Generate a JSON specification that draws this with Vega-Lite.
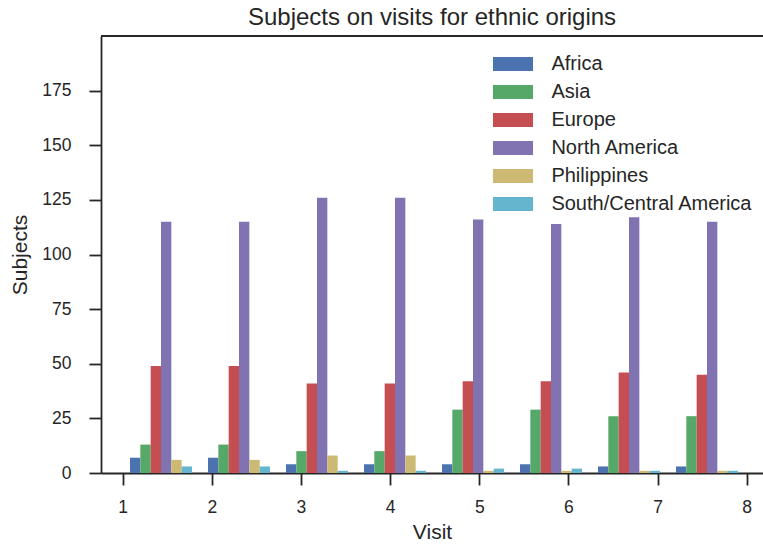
{
  "$schema": "https://vega.github.io/schema/vega-lite/v6.json",
  "width": 662,
  "height": 437,
  "autosize": {"type": "none"},
  "padding": {"left": 101, "top": 36, "right": 0, "bottom": 75},
  "background": "white",
  "config": {"font": "Liberation Sans", "view": {"stroke": null}, "axis": {"grid": false}},
  "title": {"text": "Subjects on visits for ethnic origins", "fontSize": 24, "fontWeight": "normal", "color": "#262626", "offset": 5, "anchor": "middle", "frame": "group"},
  "data": {"values": [
    {"Visit": 1, "Origin": "Africa", "Subjects": 7},
    {"Visit": 1, "Origin": "Asia", "Subjects": 13},
    {"Visit": 1, "Origin": "Europe", "Subjects": 49},
    {"Visit": 1, "Origin": "North America", "Subjects": 115},
    {"Visit": 1, "Origin": "Philippines", "Subjects": 6},
    {"Visit": 1, "Origin": "South/Central America", "Subjects": 3},
    {"Visit": 2, "Origin": "Africa", "Subjects": 7},
    {"Visit": 2, "Origin": "Asia", "Subjects": 13},
    {"Visit": 2, "Origin": "Europe", "Subjects": 49},
    {"Visit": 2, "Origin": "North America", "Subjects": 115},
    {"Visit": 2, "Origin": "Philippines", "Subjects": 6},
    {"Visit": 2, "Origin": "South/Central America", "Subjects": 3},
    {"Visit": 3, "Origin": "Africa", "Subjects": 4},
    {"Visit": 3, "Origin": "Asia", "Subjects": 10},
    {"Visit": 3, "Origin": "Europe", "Subjects": 41},
    {"Visit": 3, "Origin": "North America", "Subjects": 126},
    {"Visit": 3, "Origin": "Philippines", "Subjects": 8},
    {"Visit": 3, "Origin": "South/Central America", "Subjects": 1},
    {"Visit": 4, "Origin": "Africa", "Subjects": 4},
    {"Visit": 4, "Origin": "Asia", "Subjects": 10},
    {"Visit": 4, "Origin": "Europe", "Subjects": 41},
    {"Visit": 4, "Origin": "North America", "Subjects": 126},
    {"Visit": 4, "Origin": "Philippines", "Subjects": 8},
    {"Visit": 4, "Origin": "South/Central America", "Subjects": 1},
    {"Visit": 5, "Origin": "Africa", "Subjects": 4},
    {"Visit": 5, "Origin": "Asia", "Subjects": 29},
    {"Visit": 5, "Origin": "Europe", "Subjects": 42},
    {"Visit": 5, "Origin": "North America", "Subjects": 116},
    {"Visit": 5, "Origin": "Philippines", "Subjects": 1},
    {"Visit": 5, "Origin": "South/Central America", "Subjects": 2},
    {"Visit": 6, "Origin": "Africa", "Subjects": 4},
    {"Visit": 6, "Origin": "Asia", "Subjects": 29},
    {"Visit": 6, "Origin": "Europe", "Subjects": 42},
    {"Visit": 6, "Origin": "North America", "Subjects": 114},
    {"Visit": 6, "Origin": "Philippines", "Subjects": 1},
    {"Visit": 6, "Origin": "South/Central America", "Subjects": 2},
    {"Visit": 7, "Origin": "Africa", "Subjects": 3},
    {"Visit": 7, "Origin": "Asia", "Subjects": 26},
    {"Visit": 7, "Origin": "Europe", "Subjects": 46},
    {"Visit": 7, "Origin": "North America", "Subjects": 117},
    {"Visit": 7, "Origin": "Philippines", "Subjects": 1},
    {"Visit": 7, "Origin": "South/Central America", "Subjects": 1},
    {"Visit": 8, "Origin": "Africa", "Subjects": 3},
    {"Visit": 8, "Origin": "Asia", "Subjects": 26},
    {"Visit": 8, "Origin": "Europe", "Subjects": 45},
    {"Visit": 8, "Origin": "North America", "Subjects": 115},
    {"Visit": 8, "Origin": "Philippines", "Subjects": 1},
    {"Visit": 8, "Origin": "South/Central America", "Subjects": 1}
  ]},
  "layer": [
    {
      "mark": {"type": "bar"},
      "encoding": {
        "x": {"field": "Visit", "type": "ordinal", "scale": {"range": [29, 637], "paddingInner": 0.205, "paddingOuter": 0}, "axis": null},
        "xOffset": {"field": "Origin", "type": "nominal"},
        "y": {"field": "Subjects", "type": "quantitative", "scale": {"domain": [0, 200], "nice": false},
          "axis": {"values": [0, 25, 50, 75, 100, 125, 150, 175], "title": "Subjects", "titleFontSize": 21, "titleFontWeight": "normal", "titleColor": "#262626", "titlePadding": 11, "labelFontSize": 17.5, "labelColor": "#262626", "labelPadding": 18, "tickSize": 12, "tickWidth": 1.8, "tickColor": "#262626", "domainColor": "#262626", "domainWidth": 1.8}},
        "color": {"field": "Origin", "type": "nominal",
          "scale": {"domain": ["Africa", "Asia", "Europe", "North America", "Philippines", "South/Central America"], "range": ["#4C72B0", "#55A868", "#C44E52", "#8172B2", "#CCB974", "#64B5CD"]},
          "legend": {"title": null, "orient": "none", "legendX": 402, "legendY": 18, "symbolType": "M-2.86,-1H2.86V1H-2.86Z", "symbolSize": 196, "symbolStrokeWidth": 0, "symbolOpacity": 1, "labelFontSize": 20, "labelLimit": 0, "labelColor": "#262626", "labelOffset": 28.4, "rowPadding": 8, "padding": 0}}
      }
    },
    {
      "mark": {"type": "point", "opacity": 0},
      "encoding": {
        "x": {"field": "Visit", "type": "quantitative", "scale": {"domain": [0.7566, 8.183], "nice": false, "zero": false},
          "axis": {"values": [1, 2, 3, 4, 5, 6, 7, 8], "format": "d", "orient": "bottom", "title": "Visit", "titleFontSize": 21, "titleFontWeight": "normal", "titleColor": "#262626", "titlePadding": 6, "labelFontSize": 17.5, "labelColor": "#262626", "labelPadding": 13, "tickSize": 12, "tickWidth": 1.8, "tickColor": "#262626", "domainColor": "#262626", "domainWidth": 1.8}}
      }
    },
    {
      "mark": {"type": "rule", "color": "#262626", "strokeWidth": 1.8},
      "encoding": {"y": {"datum": 200}}
    }
  ],
  "resolve": {"scale": {"x": "independent"}, "axis": {"x": "independent"}}
}
